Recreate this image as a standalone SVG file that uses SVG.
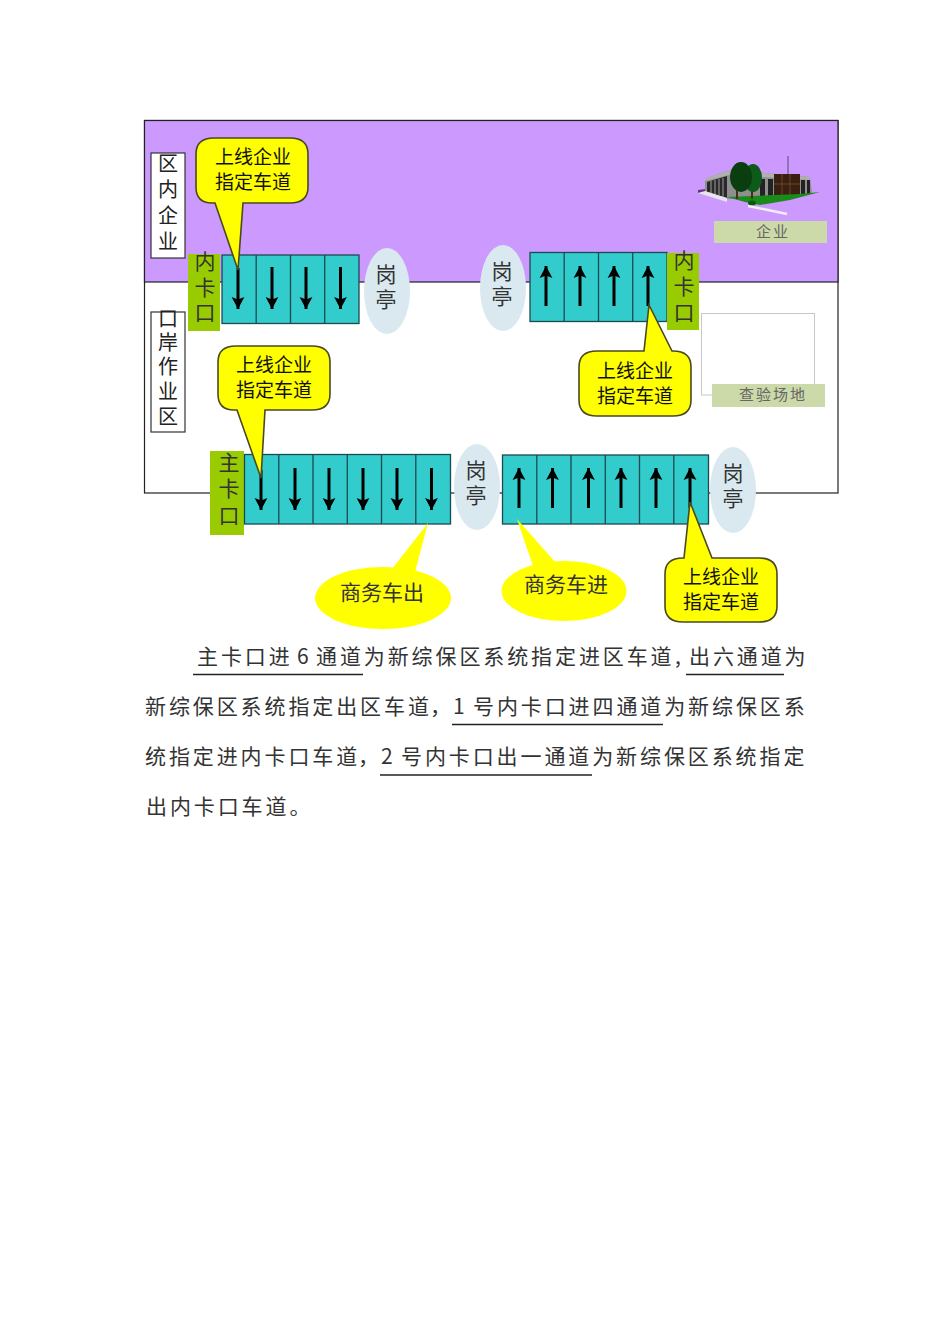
<svg xmlns="http://www.w3.org/2000/svg" width="950" height="1344" viewBox="0 0 950 1344">
<style>
text{font-family:"Noto Sans CJK SC","Noto Sans",sans-serif;text-anchor:middle;dominant-baseline:central}
.z{font-size:20px;fill:#222}
.c{font-size:19px;fill:#111}
.y{font-size:21px;fill:#333}
.s{font-size:15px;fill:#666;letter-spacing:2px}
.b{font-size:21px;fill:#333;text-anchor:start;dominant-baseline:alphabetic;letter-spacing:2.9px}
.g{fill:#99cc00}
.k{fill:#d9e9ef}
.lb{fill:#fff;stroke:#333;stroke-width:1.2}
.lane{fill:#33cccc;stroke:#1d4a4f;stroke-width:1.3}
.call{fill:#ffff00;stroke:#4a4a20;stroke-width:1.6}
.el{fill:#ffff00}
.a{stroke:#000;stroke-width:3;fill:none;marker-end:url(#h)}
.u{stroke:#222;stroke-width:1.3}
.tag{fill:#ccd9a9}
</style>
<defs>
<marker id="h" markerUnits="userSpaceOnUse" markerWidth="14" markerHeight="14" refX="12" refY="7" orient="auto">
<path d="M12,7 L0,0.6 L2.5,7 L0,13.4 Z" fill="#000"/>
</marker>
</defs>
<rect width="950" height="1344" fill="#fff"/>
<g id="zones">
<rect x="144.5" y="120.5" width="693.5" height="372.5" fill="#fff" stroke="#222" stroke-width="1.2"/>
<rect x="144.5" y="120.5" width="693.5" height="161.5" fill="#cc99ff" stroke="#222" stroke-width="1.2"/>
</g>
<g id="label-qnqy"><rect class="lb" x="151" y="153" width="34" height="105"/>
<text class="z" x="168 168 168 168" y="162 188 214 240">区内企业</text></g>
<g id="label-kazy"><rect class="lb" x="151" y="312" width="34" height="120"/>
<text class="z" x="168 168 168 168 168" y="317 341 365 390 415">口岸作业区</text></g>
<g id="building">
<line x1="788" y1="156" x2="788" y2="176" stroke="#5a4a6a" stroke-width="1"/>
<polygon points="698,190 706,189 706,192 698,193" fill="#5a3a7a"/>
<polygon points="705,179 729,170 810,177 812,193 800,197 745,199 727,199 705,191" fill="#8f8f8f"/>
<polygon points="729,170 810,177 810,180 729,175 705,181 705,179" fill="#b0b0b0"/>
<polygon points="707,182 727,176 727,198 707,192" fill="#2a2a2a"/>
<path d="M711,181V193M715,180V194M719,179V195M723,178V197" stroke="#8a8a8a" stroke-width="1.2"/>
<rect x="760" y="179" width="5" height="19" fill="#222"/><rect x="768" y="179" width="5" height="19" fill="#222"/>
<rect x="801" y="180" width="4" height="15" fill="#222"/><rect x="807" y="180" width="3" height="14" fill="#222"/>
<rect x="774" y="174" width="26" height="23" fill="#3a2010"/>
<path d="M774,184H800M782,174V197M790,174V197" stroke="#7a5030" stroke-width="0.8"/>
<polygon points="698,193 705,191 727,198 727,202" fill="#e8e4ee"/>
<polygon points="727,197 800,194 820,192 790,200 760,205 745,202" fill="#1a8a1a"/>
<ellipse cx="752" cy="203" rx="4" ry="2.5" fill="#0a5a0a"/>
<path d="M748,206 L768,210 L787,214" stroke="#f0eef4" stroke-width="2.5" fill="none"/>
<line x1="737" y1="186" x2="737" y2="199" stroke="#4a3010" stroke-width="2"/><line x1="752" y1="186" x2="752" y2="199" stroke="#4a3010" stroke-width="2"/>
<ellipse cx="753" cy="178" rx="9" ry="14" fill="#0d5a1a"/>
<ellipse cx="741" cy="177" rx="11" ry="15" fill="#0a3d10"/>
</g>
<g id="tag-qy"><rect class="tag" x="714" y="221" width="113" height="22"/><text class="s" x="773" y="230">企业</text></g>
<g id="inspection"><rect x="701.5" y="313.5" width="113" height="81.5" fill="#fff" stroke="#c8c8c8" stroke-width="1"/>
<rect class="tag" x="712" y="384" width="113" height="23"/><text class="s" x="773" y="393.5">查验场地</text></g>
<g id="gate-inner-1"><rect class="g" x="188" y="254" width="32" height="77"/>
<text class="y" x="205 205 205" y="260 286 311">内卡口</text></g>
<g id="lanes-inner-1"><rect class="lane" x="222" y="255" width="137" height="68.5"/><path class="lane" d="M256.2,255V323.5M290.5,255V323.5M324.7,255V323.5"/></g>
<g id="kiosk-1"><ellipse class="k" cx="387" cy="291" rx="23" ry="43"/><text class="y" x="386 386" y="273 298">岗亭</text></g>
<g id="kiosk-2"><ellipse class="k" cx="503" cy="288" rx="23" ry="43"/><text class="y" x="502 502" y="270 295">岗亭</text></g>
<g id="lanes-inner-2"><rect class="lane" x="530" y="252.5" width="137" height="69"/><path class="lane" d="M564.2,252.5V321.5M598.5,252.5V321.5M632.7,252.5V321.5"/></g>
<g id="gate-inner-2"><rect class="g" x="667" y="253" width="32" height="77"/>
<text class="y" x="684 684 684" y="259 285 311">内卡口</text></g>
<g id="gate-main"><rect class="g" x="210" y="451" width="34" height="84"/>
<text class="y" x="229 229 229" y="461 487 514">主卡口</text></g>
<g id="lanes-main-out"><rect class="lane" x="244.5" y="454.5" width="206" height="69.5"/><path class="lane" d="M278.8,454.5V524M313,454.5V524M347.3,454.5V524M381.5,454.5V524M415.8,454.5V524"/></g>
<g id="kiosk-3"><ellipse class="k" cx="477" cy="487" rx="23" ry="43"/><text class="y" x="476 476" y="469 494">岗亭</text></g>
<g id="lanes-main-in"><rect class="lane" x="502.5" y="455" width="206" height="69"/><path class="lane" d="M536.8,455V524M571,455V524M605.3,455V524M639.5,455V524M673.8,455V524"/></g>
<g id="kiosk-4"><ellipse class="k" cx="733" cy="490" rx="23" ry="43"/><text class="y" x="733 733" y="472 497">岗亭</text></g>
<g id="connectors">
<line class="a" x1="238" y1="268" x2="238" y2="309"/><line class="a" x1="272" y1="267" x2="272" y2="309"/><line class="a" x1="306" y1="267" x2="306" y2="309"/><line class="a" x1="340.5" y1="267" x2="340.5" y2="309"/>
<line class="a" x1="546" y1="306" x2="546" y2="266"/><line class="a" x1="580" y1="306" x2="580" y2="266"/><line class="a" x1="614" y1="306" x2="614" y2="266"/><line class="a" x1="648" y1="306" x2="648" y2="266"/>
<line class="a" x1="261" y1="470" x2="261" y2="510"/><line class="a" x1="295" y1="468" x2="295" y2="510"/><line class="a" x1="329" y1="468" x2="329" y2="510"/><line class="a" x1="363" y1="468" x2="363" y2="510"/><line class="a" x1="397" y1="468" x2="397" y2="510"/><line class="a" x1="431.5" y1="468" x2="431.5" y2="510"/>
<line class="a" x1="519" y1="508" x2="519" y2="468"/><line class="a" x1="552.5" y1="508" x2="552.5" y2="468"/><line class="a" x1="588.5" y1="508" x2="588.5" y2="468"/><line class="a" x1="621" y1="508" x2="621" y2="468"/><line class="a" x1="656" y1="508" x2="656" y2="468"/><line class="a" x1="690" y1="508" x2="690" y2="468"/>
</g>
<g id="callout-1"><path class="call" d="M214,138H290Q308,138 308,154V187Q308,203 290,203H243L238,270L215,203H212Q196,203 196,187V154Q196,138 214,138Z"/>
<text class="c" x="253" y="155">上线企业</text><text class="c" x="253" y="180">指定车道</text></g>
<g id="callout-2"><path class="call" d="M236,346H312Q330,346 330,362V394Q330,410 312,410H265L261,478L237,410H234Q218,410 218,394V362Q218,346 236,346Z"/>
<text class="c" x="274" y="363">上线企业</text><text class="c" x="274" y="388">指定车道</text></g>
<g id="callout-3"><path class="call" d="M597,351H644L649,305L672,351H673Q691,351 691,367V400Q691,416 673,416H597Q579,416 579,400V367Q579,351 597,351Z"/>
<text class="c" x="635" y="369">上线企业</text><text class="c" x="635" y="394">指定车道</text></g>
<g id="callout-4"><path class="call" d="M683,558H684L690,502L712,558H759Q777,558 777,574V606Q777,622 759,622H683Q665,622 665,606V574Q665,558 683,558Z"/>
<text class="c" x="721" y="575">上线企业</text><text class="c" x="721" y="600">指定车道</text></g>
<g id="callout-out"><ellipse class="el" cx="383" cy="598" rx="68" ry="31"/><polygon class="el" points="388,574 428,523 414,576"/>
<text class="y" x="382" y="591">商务车出</text></g>
<g id="callout-in"><ellipse class="el" cx="564" cy="591" rx="62.5" ry="30"/><polygon class="el" points="533,566 517,519 556,563"/>
<text class="y" x="566" y="583">商务车进</text></g>
<g id="paragraph">
<text class="b" y="664"><tspan x="197">主卡口进</tspan><tspan x="297">6</tspan><tspan x="316">通道为新综保区系统指定进区车道</tspan><tspan x="675">,</tspan><tspan x="689">出六通道为</tspan></text>
<text class="b" y="714"><tspan x="145">新综保区系统指定出区车道</tspan><tspan x="430">，</tspan><tspan x="453">1</tspan><tspan x="473">号内卡口进四通道为新综保区系</tspan></text>
<text class="b" y="764"><tspan x="145">统指定进内卡口车道</tspan><tspan x="358">，</tspan><tspan x="381">2</tspan><tspan x="401">号内卡口出一通道为新综保区系统指定</tspan></text>
<text class="b" y="814" x="146">出内卡口车道。</text>
<line class="u" x1="193" y1="674.5" x2="363" y2="674.5"/><line class="u" x1="686" y1="674.5" x2="784" y2="674.5"/>
<line class="u" x1="452" y1="724.5" x2="663" y2="724.5"/><line class="u" x1="380" y1="775" x2="592" y2="775"/>
</g>
</svg>
